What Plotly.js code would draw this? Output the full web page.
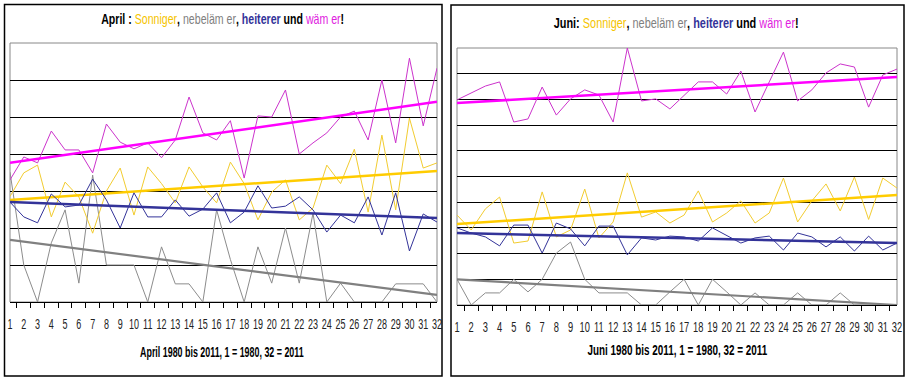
<!DOCTYPE html>
<html>
<head>
<meta charset="utf-8">
<script src="https://cdn.plot.ly/plotly-3.0.1.min.js"></script>
<style>
html,body{margin:0;padding:0;background:#fff;}
#chart{width:907px;height:382px;}
</style>
</head>
<body>
<div id="chart"></div>
<script>
// Categories (years 1980..2011 numbered 1..32)
const categories = Array.from({length: 32}, (_, i) => String(i + 1));

// April series (relative units)
const aprilSonne = [2.85,3.49,3.70,2.30,3.24,2.84,1.86,3.00,3.62,2.35,3.65,3.20,2.68,3.65,3.11,2.68,3.78,3.20,2.22,2.97,3.30,2.22,2.54,3.70,3.20,4.13,2.43,4.51,2.49,4.97,3.62,3.76];
const aprilNebel = [3.51,1.00,0.00,1.60,2.49,0.51,3.43,1.00,1.00,1.00,0.00,1.49,0.49,0.49,0.00,2.49,1.15,0.00,1.49,0.51,2.00,0.51,2.40,0.00,0.51,0.00,0.00,0.00,0.49,0.49,0.49,0.00];
const aprilHeiter = [2.70,2.30,2.14,2.92,2.57,2.62,3.32,2.76,2.00,2.95,2.30,2.30,2.76,2.32,2.51,2.95,2.14,2.43,3.14,2.54,2.59,2.84,2.49,1.89,2.35,2.14,2.84,1.81,2.95,1.38,2.38,2.16];
const aprilWarm = [3.30,3.92,3.76,4.62,4.11,4.11,3.49,4.81,4.32,4.14,4.30,3.90,4.38,5.54,4.57,4.38,4.90,3.35,5.03,5.00,5.73,4.00,4.30,4.57,5.00,5.16,4.38,6.00,4.30,6.59,4.76,6.32];
// April trend lines: [value at 1, value at 32]
const aprilTrendSonne = [2.76, 3.54];
const aprilTrendNebel = [1.68, 0.19];
const aprilTrendHeiter = [2.70, 2.27];
const aprilTrendWarm = [3.76, 5.41];

// Juni series
const juniSonne = [3.50,2.92,3.74,4.20,2.41,2.49,4.40,2.65,2.92,4.51,2.61,3.23,5.14,3.42,3.62,3.19,3.50,4.44,3.23,3.58,4.05,3.19,3.58,4.94,3.23,4.05,4.71,3.66,4.98,3.33,4.94,4.55];
const juniNebel = [1.00,0.00,0.47,0.47,1.00,0.51,1.00,2.02,2.45,1.00,0.47,0.47,0.47,0.00,0.00,0.51,1.00,0.00,1.00,0.51,0.00,0.47,0.00,0.00,0.47,0.00,0.00,0.47,0.00,0.00,0.00,0.00];
const juniHeiter = [3.00,2.80,2.65,2.30,3.11,3.11,2.02,3.19,2.96,2.30,3.07,3.07,1.95,2.61,2.53,2.68,2.65,2.49,3.00,2.72,2.41,2.61,2.68,2.14,2.80,2.65,2.26,2.65,2.10,2.68,2.14,2.41];
const juniWarm = [7.98,8.25,8.52,8.68,7.12,7.24,8.48,7.39,8.02,8.37,8.17,7.12,10.0,7.94,8.02,7.63,8.17,8.68,8.68,8.21,9.10,7.51,8.68,9.84,7.94,8.37,9.03,9.38,9.26,7.70,8.95,9.18];
const juniTrendSonne = [3.15, 4.28];
const juniTrendNebel = [1.00, 0.00];
const juniTrendHeiter = [2.80, 2.41];
const juniTrendWarm = [7.86, 8.87];

const trendX = [categories[0], categories[categories.length - 1]];

const COL = {
  sonne: '#F2CC30', sonneT: '#FFCC00',
  nebel: '#8C8C8C', nebelT: '#808080',
  heiter: '#333399', heiterT: '#333399',
  warm: '#CC33CC', warmT: '#FF00FF'
};

function panel(xa, ya, s, n, h, w, ts, tn, th, tw) {
  const ln = (y, c, wd, x) => ({x: x || categories, y: y, type: 'scatter', mode: 'lines',
    xaxis: xa, yaxis: ya, line: {color: c, width: wd}, hoverinfo: 'skip', showlegend: false});
  return [
    ln(n, COL.nebel, 1), ln(tn, COL.nebelT, 2.2, trendX),
    ln(s, COL.sonne, 1), ln(ts, COL.sonneT, 2.5, trendX),
    ln(h, COL.heiter, 1), ln(th, COL.heiterT, 2.5, trendX),
    ln(w, COL.warm, 1), ln(tw, COL.warmT, 2.5, trendX)
  ];
}

const data = [].concat(
  panel('x', 'y', aprilSonne, aprilNebel, aprilHeiter, aprilWarm,
        aprilTrendSonne, aprilTrendNebel, aprilTrendHeiter, aprilTrendWarm),
  panel('x2', 'y2', juniSonne, juniNebel, juniHeiter, juniWarm,
        juniTrendSonne, juniTrendNebel, juniTrendHeiter, juniTrendWarm)
);

const W = 907, H = 382;
const px = v => v / W, py = v => 1 - v / H;
const FONT = '"Liberation Sans", Arial, sans-serif';

const xCommon = {
  type: 'category', tickson: 'boundaries', ticks: 'outside', ticklen: 5, tickcolor: '#000',
  tickmode: 'linear', tick0: 0, dtick: 1, tickangle: 0, ticklabelstandoff: 8,
  showline: true, linecolor: '#000', linewidth: 1, showgrid: false, zeroline: false,
  tickfont: {family: FONT, size: 15, color: '#222'}, fixedrange: true
};
const yCommon = {
  showticklabels: false, ticks: '', showline: false, zeroline: false,
  showgrid: true, gridcolor: '#000', gridwidth: 1, fixedrange: true
};

function title(prefix) {
  return '<b>' + prefix + '</b> <span style="color:#F5C400">Sonniger</span><b>,</b> ' +
    '<span style="color:#808080">nebeläm er</span><b>,</b> ' +
    '<b><span style="color:#333399">heiterer</span> und</b> ' +
    '<span style="color:#E020E0">wäm er</span><b>!</b>';
}

// target rendered widths (px) of annotation texts, for the narrow look
const annWidths = [243, 245, 164, 180];

const layout = {
  width: W, height: H,
  margin: {l: 0, r: 0, t: 0, b: 0},
  paper_bgcolor: '#fff', plot_bgcolor: '#fff',
  showlegend: false,
  xaxis: Object.assign({}, xCommon, {domain: [px(10), px(437)], anchor: 'y'}),
  yaxis: Object.assign({}, yCommon, {domain: [py(302), py(43)], range: [0, 7], tickvals: [1,2,3,4,5,6], anchor: 'x'}),
  xaxis2: Object.assign({}, xCommon, {domain: [px(457), px(897)], anchor: 'y2'}),
  yaxis2: Object.assign({}, yCommon, {domain: [py(305), py(48)], range: [0, 10], tickvals: [1,2,3,4,5,6,7,8,9], anchor: 'x2'}),
  shapes: [
    {type: 'rect', xref: 'paper', yref: 'paper', x0: px(4.5), x1: px(442), y0: py(376), y1: py(4.5), line: {color: '#000', width: 1.5}},
    {type: 'rect', xref: 'paper', yref: 'paper', x0: px(451), x1: px(904), y0: py(376), y1: py(5), line: {color: '#000', width: 1.5}},
    {type: 'rect', xref: 'x domain', yref: 'y domain', x0: 0, x1: 1, y0: 0, y1: 1, line: {color: '#888', width: 1}, layer: 'below'},
    {type: 'rect', xref: 'x2 domain', yref: 'y2 domain', x0: 0, x1: 1, y0: 0, y1: 1, line: {color: '#888', width: 1}, layer: 'below'}
  ],
  annotations: [
    {xref: 'paper', yref: 'paper', x: px(222), y: py(19), showarrow: false, xanchor: 'center', yanchor: 'middle',
     text: title('April :'), font: {family: FONT, size: 14, color: '#000'}},
    {xref: 'paper', yref: 'paper', x: px(676), y: py(23), showarrow: false, xanchor: 'center', yanchor: 'middle',
     text: title('Juni:'), font: {family: FONT, size: 14, color: '#000'}},
    {xref: 'paper', yref: 'paper', x: px(222), y: py(352), showarrow: false, xanchor: 'center', yanchor: 'middle',
     text: '<b>April 1980 bis 2011, 1 = 1980, 32 = 2011</b>', font: {family: FONT, size: 14, color: '#000'}},
    {xref: 'paper', yref: 'paper', x: px(677), y: py(350), showarrow: false, xanchor: 'center', yanchor: 'middle',
     text: '<b>Juni 1980 bis 2011, 1 = 1980, 32 = 2011</b>', font: {family: FONT, size: 14, color: '#000'}}
  ]
};

function squeeze(el, s) {
  const b = el.getBBox();
  const cx = b.x + b.width / 2;
  const t = el.getAttribute('transform') || '';
  el.setAttribute('transform', t + ' translate(' + cx + ',0) scale(' + s + ',1) translate(' + (-cx) + ',0)');
}

Plotly.newPlot('chart', data, layout, {displayModeBar: false, staticPlot: true}).then(function (gd) {
  gd.querySelectorAll('g.annotation').forEach(function (g) {
    const idx = +g.getAttribute('data-index');
    const txt = g.querySelector('text.annotation-text');
    if (!txt) return;
    const w = txt.getBBox().width;
    if (w > 0) squeeze(txt, annWidths[idx] / w);
  });
  gd.querySelectorAll('.xtick text').forEach(function (t) { squeeze(t, 0.6); });
  gd.querySelectorAll('.x2tick text').forEach(function (t) { squeeze(t, 0.62); });
});
</script>
</body>
</html>
